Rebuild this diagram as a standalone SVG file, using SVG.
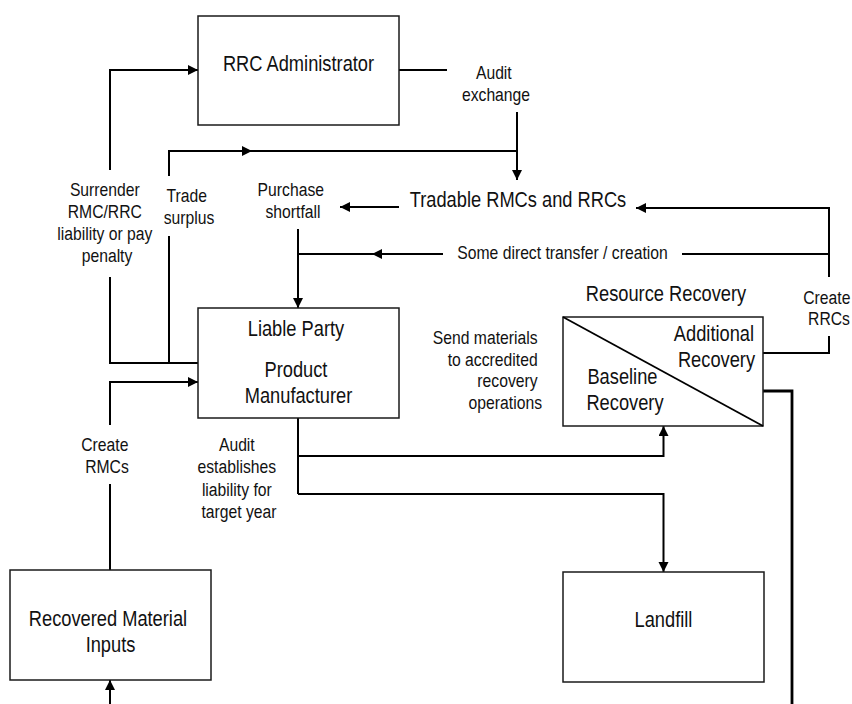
<svg xmlns="http://www.w3.org/2000/svg" width="852" height="704" viewBox="0 0 852 704">
  <style>
    .box { fill: #ffffff; stroke: #1a1a1a; stroke-width: 1.5; }
    .wire { fill: none; stroke: #000000; stroke-width: 2; }
    .heavy { fill: none; stroke: #000000; stroke-width: 2.8; }
    .big { font-family: "Liberation Sans", Arial, sans-serif; font-size: 21.5px; fill: #111111; text-anchor: middle; }
    .note { font-family: "Liberation Sans", Arial, sans-serif; font-size: 18.5px; fill: #111111; text-anchor: middle; }
    .end { text-anchor: end; }
  </style>
  <defs>
    <marker id="arrow" markerUnits="userSpaceOnUse" markerWidth="11" markerHeight="11" refX="10" refY="5" orient="auto">
      <path d="M0,0 L10,5 L0,10 z" fill="#000000"/>
    </marker>
  </defs>

  <!-- connectors -->
  <g id="connectors">
    <!-- surrender liability to the administrator -->
    <path class="wire" d="M198,363 H110 V277"/>
    <path class="wire" d="M110,170 V70 H198" marker-end="url(#arrow)"/>
    <!-- trade surplus into the market -->
    <path class="wire" d="M169,363 V236"/>
    <path class="wire" d="M169,176 V151 H252" marker-end="url(#arrow)"/>
    <path class="wire" d="M252,151 H517"/>
    <!-- audit exchange -->
    <path class="wire" d="M399,70 H447"/>
    <path class="wire" d="M517,112 V180" marker-end="url(#arrow)"/>
    <!-- purchase shortfall -->
    <path class="wire" d="M399,207 H340" marker-end="url(#arrow)"/>
    <path class="wire" d="M298,229 V308" marker-end="url(#arrow)"/>
    <!-- create RRCs -->
    <path class="wire" d="M763,353 H829 V336"/>
    <path class="wire" d="M829,277 V208 H636" marker-end="url(#arrow)"/>
    <!-- some direct transfer / creation -->
    <path class="wire" d="M829,254 H682"/>
    <path class="wire" d="M443,254 H372" marker-end="url(#arrow)"/>
    <path class="wire" d="M372,254 H298"/>
    <!-- create RMCs -->
    <path class="wire" d="M110,570 V484"/>
    <path class="wire" d="M110,425 V382 H198" marker-end="url(#arrow)"/>
    <path class="wire" d="M110,704 V680" marker-end="url(#arrow)"/>
    <!-- manufacturer outputs -->
    <path class="wire" d="M298,418 V494"/>
    <path class="wire" d="M298,456 H663.5 V426" marker-end="url(#arrow)"/>
    <path class="wire" d="M298,494 H663.5 V572" marker-end="url(#arrow)"/>
    <!-- additional recovery outflow -->
    <path class="heavy" d="M763,391 H792 V704"/>
  </g>

  <!-- nodes -->
  <g id="rrc-administrator">
    <rect class="box" x="198" y="16" width="201" height="109"/>
    <text class="big" transform="matrix(0.85 0 0 1 298.5 0)"><tspan x="0" y="71">RRC Administrator</tspan></text>
  </g>

  <g id="tradable-market">
    <text class="big" transform="matrix(0.85 0 0 1 518 0)"><tspan x="0" y="207">Tradable RMCs and RRCs</tspan></text>
  </g>

  <g id="liable-party">
    <rect class="box" x="198" y="308" width="201" height="110"/>
    <text class="big" transform="matrix(0.85 0 0 1 298.5 0)">
      <tspan x="0" y="336">Liable Party</tspan>
      <tspan x="0" y="377">Product</tspan>
      <tspan x="0" y="403">Manufacturer</tspan>
    </text>
  </g>

  <g id="resource-recovery">
    <text class="big" transform="matrix(0.85 0 0 1 666 0)"><tspan x="0" y="301">Resource Recovery</tspan></text>
    <rect class="box" x="563" y="317" width="200" height="109"/>
    <line x1="563" y1="317" x2="763" y2="426" stroke="#000000" stroke-width="1.8"/>
    <text class="big" transform="matrix(0.85 0 0 1 716.5 0)">
      <tspan x="0" y="341">Additional</tspan>
      <tspan x="0" y="367">Recovery</tspan>
    </text>
    <text class="big" transform="matrix(0.85 0 0 1 625 0)">
      <tspan x="0" y="384">Baseline</tspan>
      <tspan x="0" y="410">Recovery</tspan>
    </text>
  </g>

  <g id="landfill">
    <rect class="box" x="563" y="572" width="201" height="110"/>
    <text class="big" transform="matrix(0.85 0 0 1 663.5 0)"><tspan x="0" y="627">Landfill</tspan></text>
  </g>

  <g id="recovered-material-inputs">
    <rect class="box" x="10" y="570" width="201" height="110"/>
    <text class="big" transform="matrix(0.85 0 0 1 110.5 0)">
      <tspan x="0" y="626">Recovered Material</tspan>
      <tspan x="0" y="652">Inputs</tspan>
    </text>
  </g>

  <!-- flow labels -->
  <g id="labels">
    <text class="note" transform="matrix(0.85 0 0 1 496 0)">
      <tspan x="0" y="79">Audit</tspan>
      <tspan x="0" y="101">exchange</tspan>
    </text>
    <text class="note" transform="matrix(0.85 0 0 1 107 0)">
      <tspan x="0" y="196">Surrender</tspan>
      <tspan x="0" y="218">RMC/RRC</tspan>
      <tspan x="0" y="240">liability or pay</tspan>
      <tspan x="0" y="262">penalty</tspan>
    </text>
    <text class="note" transform="matrix(0.85 0 0 1 189 0)">
      <tspan x="0" y="202">Trade</tspan>
      <tspan x="0" y="224">surplus</tspan>
    </text>
    <text class="note" transform="matrix(0.85 0 0 1 293 0)">
      <tspan x="0" y="196">Purchase</tspan>
      <tspan x="0" y="218">shortfall</tspan>
    </text>
    <text class="note" transform="matrix(0.85 0 0 1 562.5 0)"><tspan x="0" y="259">Some direct transfer / creation</tspan></text>
    <text class="note" transform="matrix(0.85 0 0 1 829 0)">
      <tspan x="0" y="304">Create</tspan>
      <tspan x="0" y="325">RRCs</tspan>
    </text>
    <text class="note end" transform="matrix(0.85 0 0 1 542 0)">
      <tspan x="0" y="344">Send materials</tspan>
      <tspan x="0" y="366">to accredited</tspan>
      <tspan x="0" y="387">recovery</tspan>
      <tspan x="0" y="409">operations</tspan>
    </text>
    <text class="note" transform="matrix(0.85 0 0 1 107 0)">
      <tspan x="0" y="451">Create</tspan>
      <tspan x="0" y="473">RMCs</tspan>
    </text>
    <text class="note" transform="matrix(0.85 0 0 1 239 0)">
      <tspan x="0" y="451">Audit</tspan>
      <tspan x="0" y="473">establishes</tspan>
      <tspan x="0" y="496">liability for</tspan>
      <tspan x="0" y="518">target year</tspan>
    </text>
  </g>
</svg>
